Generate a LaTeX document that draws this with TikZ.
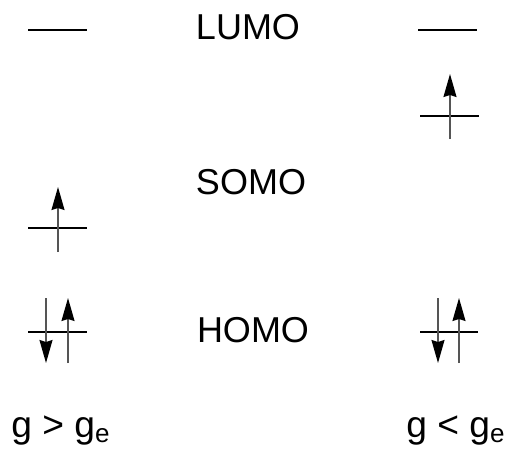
\documentclass[tikz,border=0pt]{standalone}
\usepackage{fontspec}
\setmainfont{Liberation Sans}
\usetikzlibrary{arrows.meta}
\definecolor{spingray}{RGB}{85, 85, 85}

\begin{document}
\begin{tikzpicture}[x=0.5pt, y=-0.5pt,
  level/.style={black, line width=1.1pt},
  spin/.style={spingray, line width=0.75pt,
    -{Stealth[length=11.5pt, width=6.5pt, inset=1pt, color=black]}},
  lab/.style={font=\fontsize{18}{21}\selectfont, inner sep=0pt},
  glab/.style={font=\fontsize{18.6}{22}\selectfont, inner sep=0pt}]

\useasboundingbox (0,0) rectangle (509,452);

% ============================================================
% left: g > g_e
% ============================================================
% LUMO (empty)
\draw[level] (28,30) -- (87,30);

% SOMO, one electron
\draw[level] (28,228) -- (87,228);
\draw[spin] (58,252) -- (58,187);

% HOMO, electron pair
\draw[level] (28,332) -- (87,332);
\draw[spin] (46,298) -- (46,363);
\draw[spin] (68,363) -- (68,298);

\node[glab, anchor=base] (gleft) at (61,437) {g > g\textsubscript{e}};

% ============================================================
% labels in the middle
% ============================================================
\node[lab, anchor=base] (lumo) at (248,39) {LUMO};
\node[lab, anchor=base] (somo) at (251,194) {SOMO};
\node[lab, anchor=base] (homo) at (253,342) {HOMO};

% ============================================================
% right: g < g_e
% ============================================================
% LUMO (empty)
\draw[level] (418,30) -- (477,30);

% former LUMO, now holding one electron
\draw[level] (420,116) -- (479,116);
\draw[spin] (450,139) -- (450,74);

% HOMO, electron pair
\draw[level] (420,332) -- (478,332);
\draw[spin] (438,298) -- (438,363);
\draw[spin] (459,363) -- (459,298);

\node[glab, anchor=base] (gright) at (456,437) {g < g\textsubscript{e}};

\end{tikzpicture}
\end{document}
